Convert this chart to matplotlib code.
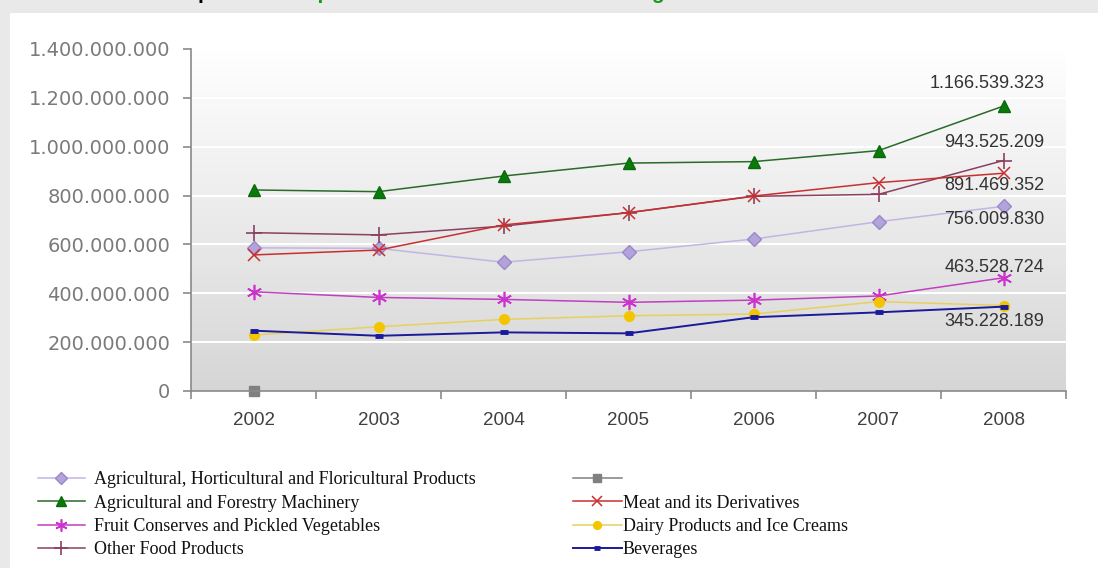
import numpy as np
import matplotlib
matplotlib.use("Agg")
import matplotlib.pyplot as plt
from matplotlib.ticker import FuncFormatter, FixedLocator

years = ["2002", "2003", "2004", "2005", "2006", "2007", "2008"]

agri_hort = [586e6, 584e6, 527e6, 570e6, 622e6, 693e6, 756009830]
agri_mach = [823e6, 816e6, 880e6, 933e6, 939e6, 984e6, 1166539323]
fruit_cons = [406e6, 383e6, 375e6, 363e6, 372e6, 389e6, 463528724]
other_food = [648e6, 639e6, 675e6, 730e6, 797e6, 805e6, 943525209]
unnamed = [0]
meat = [557e6, 577e6, 680e6, 730e6, 798e6, 853e6, 891469352]
dairy = [229e6, 263e6, 293e6, 308e6, 315e6, 366e6, 350e6]
beverages = [247e6, 226e6, 240e6, 236e6, 302e6, 322e6, 345228189]

labels = ["Agricultural, Horticultural and Floricultural Products",
          "Agricultural and Forestry Machinery",
          "Fruit Conserves and Pickled Vegetables",
          "Other Food Products",
          " ",
          "Meat and its Derivatives",
          "Dairy Products and Ice Creams",
          "Beverages"]

W, H = 1098, 568
fig = plt.figure(figsize=(W / 100, H / 100), dpi=100, facecolor="#e9e9e9")
# white panel
fig.patches.append(plt.Rectangle((10 / W, 0), 1, (H - 13) / H, transform=fig.transFigure,
                                 facecolor="white", edgecolor="none", zorder=-10))

# title (cut off at the top, as in the reference)
fig.text(162 / W, 1.0 + 1 / H, "Graph 1:", color="black", fontsize=15, fontweight="bold",
         family="Liberation Sans", va="baseline", ha="left")
fig.text(292 / W, 1.0 + 1 / H, "Exports of the Main Sectors of the Agrifood Industries",
         color="#1a9a1a", fontsize=15, fontweight="bold", family="Liberation Sans",
         va="baseline", ha="left")

ax = fig.add_axes([191 / W, 1 - 391 / H, (1066 - 191) / W, (391 - 49) / H])
ax.set_facecolor("none")
x = np.arange(len(years))

# gradient background
grad = np.linspace(1, 0, 256).reshape(-1, 1)
cmap = matplotlib.colors.LinearSegmentedColormap.from_list("g", ["#d6d6d6", "#ffffff"])
ax.imshow(grad, extent=[0, 1, 0, 1], transform=ax.transAxes, cmap=cmap, aspect="auto",
          zorder=0, vmin=0, vmax=1)

ax.set_xlim(-0.5, 6.5)
ax.set_ylim(0, 1.4e9)
ax.set_yticks(np.arange(0, 1.4e9 + 1, 2e8))
for yv in np.arange(2e8, 1.4e9, 2e8):
    ax.axhline(yv, color="white", lw=1.5, zorder=1)

lw = 1.1
h = []
h += ax.plot(x, agri_hort, color="#c4b4e4", lw=lw, marker="D", ms=7.5, mfc="#b4a2dc",
             mec="#9a88c8", zorder=3, label=labels[0])
h += ax.plot(x, agri_mach, color="#2a6a2a", lw=lw, marker="^", ms=9, mfc="#0a7a0a",
             mec="#0a6a0a", zorder=3, label=labels[1])
h += ax.plot(x, fruit_cons, color="#c040c0", lw=lw, marker=(6, 2, 0), ms=11, mec="#cc33cc",
             mew=1.2, zorder=3, label=labels[2])
h += ax.plot(x, other_food, color="#8a4060", lw=lw, marker="+", ms=12, mec="#8a4060",
             mew=1.2, zorder=3, label=labels[3])
h += ax.plot(x[:1], unnamed, color="#808080", lw=lw, marker="s", ms=7, mfc="#808080",
             mec="#808080", zorder=4, clip_on=False, label=labels[4])
h += ax.plot(x, meat, color="#c83030", lw=lw, marker="x", ms=9, mec="#c83030", mew=1.1,
             zorder=3, label=labels[5])
h += ax.plot(x, dairy, color="#e8d060", lw=lw, marker="o", ms=7, mfc="#f5c400",
             mec="#f0c800", zorder=3, label=labels[6])
h += ax.plot(x, beverages, color="#1a1a9a", lw=lw + 0.3, marker="_", ms=6, mew=3.5,
             mec="#1a1a9a", zorder=3, label=labels[7])

# data labels for 2008
dl = [(agri_mach, 41, 23), (other_food, 41, 18), (meat, 41, -12), (agri_hort, 41, -13),
      (fruit_cons, 41, 10), (beverages, 41, -15)]
for series, dx, dy in dl:
    v = series[-1]
    txt = f"{int(round(v)):,}".replace(",", ".")
    ax.annotate(txt, xy=(6, v), xytext=(dx, dy), textcoords="offset pixels",
                ha="right", va="center", fontsize=13, family="Liberation Sans",
                color="#333333", zorder=5)

for s in ["top", "right"]:
    ax.spines[s].set_visible(False)
for s in ["left", "bottom"]:
    ax.spines[s].set_color("#8a8a8a")
    ax.spines[s].set_linewidth(1.2)
    ax.spines[s].set_zorder(6)

ax.yaxis.set_major_formatter(FuncFormatter(lambda v, p: f"{int(v):,}".replace(",", ".")))
ax.tick_params(axis="y", direction="out", length=6, color="#8a8a8a", width=1.2,
               labelsize=14, labelcolor="#7a7a7a", pad=9)
for t in ax.get_yticklabels():
    t.set_family("DejaVu Sans")

ax.set_xticks(x)
ax.set_xticklabels(years)
ax.tick_params(axis="x", which="major", length=0, labelsize=13.5, labelcolor="#404040", pad=15)
for t in ax.get_xticklabels():
    t.set_family("Liberation Sans")
ax.xaxis.set_minor_locator(FixedLocator(np.arange(-0.5, 7, 1)))
ax.tick_params(axis="x", which="minor", direction="out", length=6, color="#8a8a8a", width=1.2)

# legends
prop = {"family": "Liberation Serif", "size": 13}
leg1 = fig.legend(h[:4], labels[:4], loc="upper left", bbox_to_anchor=(38 / W, 1 - 471 / H),
                  frameon=False, ncol=1, borderpad=0, borderaxespad=0, handlelength=2.6,
                  handletextpad=0.5, labelspacing=0.36, numpoints=1, prop=prop,
                  markerscale=0.8)
leg2 = fig.legend(h[4:], labels[4:], loc="upper left", bbox_to_anchor=(573 / W, 1 - 471 / H),
                  frameon=False, ncol=1, borderpad=0, borderaxespad=0, handlelength=2.7,
                  handletextpad=0.05, labelspacing=0.36, numpoints=1, prop=prop,
                  markerscale=0.8)
for t in list(leg1.get_texts()) + list(leg2.get_texts()):
    t.set_color("#111111")

fig.savefig("out.png", dpi=100, facecolor=fig.get_facecolor())
